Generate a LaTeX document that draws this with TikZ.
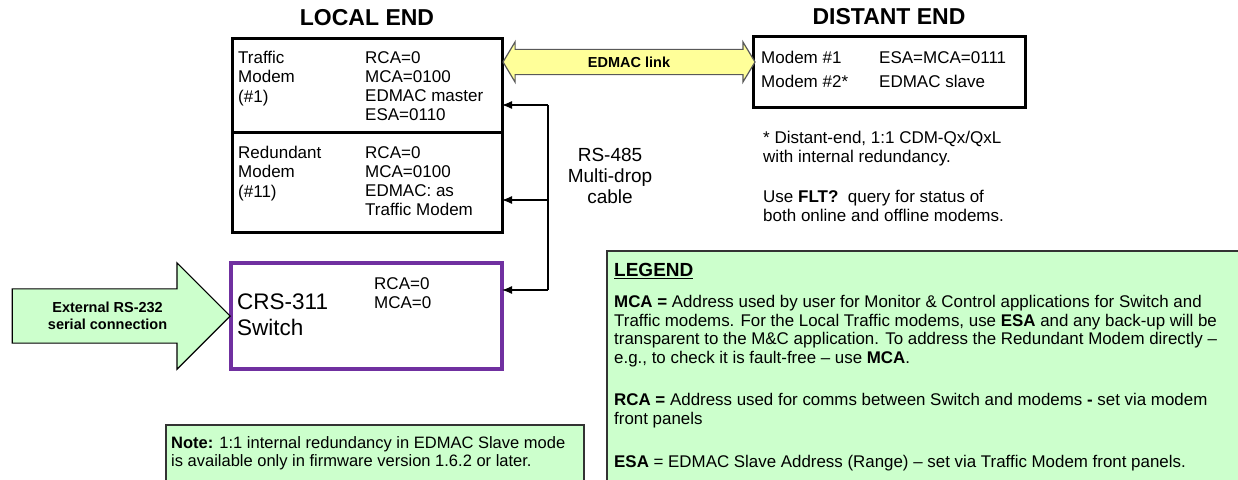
\documentclass[tikz,border=0pt]{standalone}
\usepackage{fontspec}
\setmainfont{Liberation Sans}
\usetikzlibrary{arrows.meta,positioning,shapes.arrows,calc}
\definecolor{linkyellow}{HTML}{FFFF99}
\definecolor{notegreen}{HTML}{CCFFCC}
\definecolor{switchpurple}{HTML}{7030A0}

\begin{document}
\begin{tikzpicture}[x=1pt, y=-1pt, >={Latex[length=10pt,width=8pt]},
    box/.style={draw, line width=3pt, minimum width=270, inner sep=0, outer sep=0, anchor=north west},
    txt/.style={anchor=north west, inner sep=0, align=left, font=\fontsize{17}{19.3}\selectfont},
    head/.style={font=\bfseries\fontsize{23}{26}\selectfont},
    notebox/.style={draw=black!80, line width=1.5pt, fill=notegreen, inner sep=0, anchor=north west},
    bus/.style={line width=1.2pt}]

    \useasboundingbox (0,0) rectangle (1238,479);
    \clip (0,0) rectangle (1238,479);

    \node[head] (localhdr) at (367,18) {LOCAL END};
    \node[head] (distanthdr) at (889,17) {DISTANT END};

    \node[box, minimum height=94] (traffic) at (232,38) {};
    \node[box, minimum height=100, below=0pt of traffic] (redundant) {};
    \node[box, minimum width=272, minimum height=71] (distant) at (753,36) {};
    \node[box, draw=switchpurple, line width=4pt, minimum width=271, minimum height=106] (switch) at (231,263) {};

    \node[txt] (trafficname) at (238,51) {Traffic\\Modem\\(\#1)};
    \node[txt] (trafficaddr) at (365,51) {RCA=0\\MCA=0100\\EDMAC master\\ESA=0110};
    \node[txt] (redname) at (238,146) {Redundant\\Modem\\(\#11)};
    \node[txt] (redaddr) at (365,146) {RCA=0\\MCA=0100\\EDMAC: as\\Traffic Modem};
    \node[txt, font=\fontsize{17}{24}\selectfont] (distname) at (761,51) {Modem \#1\\Modem \#2*};
    \node[txt, font=\fontsize{17}{24}\selectfont] (distaddr) at (879,51) {ESA=MCA=0111\\EDMAC slave};
    \node[txt, font=\fontsize{17}{18.5}\selectfont] (distnote) at (763,131) {* Distant-end, 1:1 CDM-Qx/QxL\\with internal redundancy.};
    \node[txt, font=\fontsize{17}{18.5}\selectfont] (fltnote) at (763,190) {Use \textbf{FLT?}\ \ query for status of\\both online and offline modems.};
    \node[txt, font=\fontsize{22.5}{26}\selectfont] (switchname) at (237,294) {CRS-311\\Switch};
    \node[txt, font=\fontsize{17}{19}\selectfont] (switchaddr) at (374,277) {RCA=0\\MCA=0};

    \node[font=\fontsize{19}{21}\selectfont, align=center, anchor=north, inner sep=0] (cable) at (610,148) {RS-485\\Multi-drop\\cable};

    \node[double arrow, draw=black!65, line width=1.2pt, fill=linkyellow, minimum height=252, minimum width=40,
        double arrow head extend=7.5, double arrow tip angle=118, inner ysep=6.7,
        font=\bfseries\fontsize{14.5}{17}\selectfont] (edmac) at (629,62) {EDMAC link};

    \node[single arrow, draw, line width=1.2pt, fill=notegreen, minimum height=218, minimum width=106,
        single arrow head extend=26, inner ysep=12.7, align=center,
        font=\bfseries\fontsize{14.5}{17}\selectfont, anchor=tip] (serial) at (switch.west) {External RS-232\\serial connection};

    \coordinate (bustop) at (548,105);
    \coordinate (busmid) at (548,200);
    \coordinate (busbot) at (548,290);
    \draw[bus] (bustop) -- (busbot);
    \draw[bus, ->] (bustop) -- (bustop -| traffic.east);
    \draw[bus, ->] (busmid) -- (busmid -| redundant.east);
    \draw[bus, ->] (busbot) -- (busbot -| switch.east);

    \node[notebox, minimum width=700, minimum height=300] (legend) at (606,250) {};
    \node[txt, font=\bfseries\fontsize{19}{22}\selectfont] (legendhdr) at (614,263) {\underline{LEGEND}};
    \node[txt, font=\fontsize{16.9}{18.6}\selectfont] (legendtxt) at (614,295) {\textbf{MCA =} Address used by user for Monitor \& Control applications for Switch and\\
        Traffic modems. For the Local Traffic modems, use \textbf{ESA} and any back-up will be\\
        transparent to the M\&C application. To address the Redundant Modem directly –\\
        e.g., to check it is fault-free – use \textbf{MCA}.\\[24pt]
        \textbf{RCA =} Address used for comms between Switch and modems \textbf{-} set via modem\\
        front panels\\[24pt]
        \textbf{ESA} = EDMAC Slave Address (Range) – set via Traffic Modem front panels.};

    \node[notebox, minimum width=418, minimum height=80] (note) at (165,424) {};
    \node[txt, font=\fontsize{16.5}{18}\selectfont] (notetxt) at (171,436) {\textbf{Note:} 1:1 internal redundancy in EDMAC Slave mode\\
        is available only in firmware version 1.6.2 or later.};
\end{tikzpicture}
\end{document}
